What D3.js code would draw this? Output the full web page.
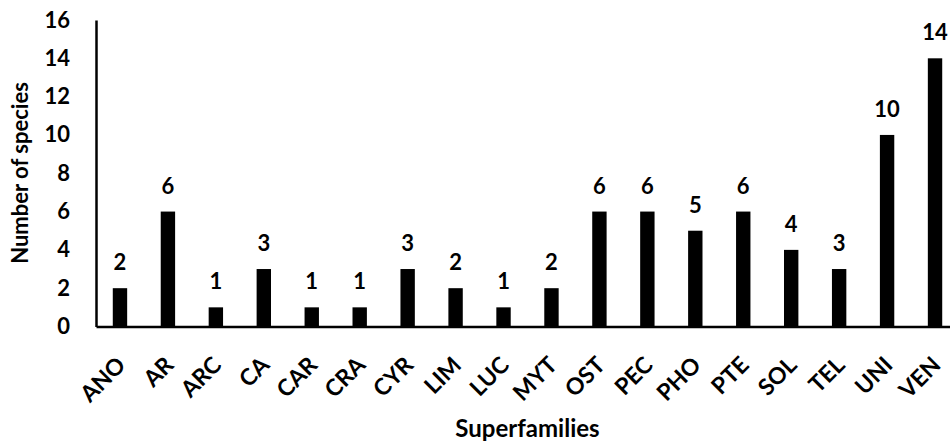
<!DOCTYPE html>
<html><head><meta charset="utf-8">
<script src="https://cdn.jsdelivr.net/npm/d3@7"></script>
<style>body{margin:0;background:#fff}svg{display:block}text{font-family:Lato,"Open Sans",sans-serif;font-weight:bold;fill:#000}</style>
</head><body><svg id="c" width="950" height="443"></svg>
<script>
const categories = ["ANO","AR","ARC","CA","CAR","CRA","CYR","LIM","LUC","MYT","OST","PEC","PHO","PTE","SOL","TEL","UNI","VEN"];
const values = [2,6,1,3,1,1,3,2,1,2,6,6,5,6,4,3,10,14];
const yTicks = [0,2,4,6,8,10,12,14,16];
const xTitle = "Superfamilies";
const yTitle = "Number of species";

const svg = d3.select("#c");
const x = d3.scaleBand().domain(categories).range([96, 959]).paddingInner(0.7).paddingOuter(0.35);
const y = d3.scaleLinear().domain([0, 16]).range([326.5, 20]);

// bars
svg.append("g").selectAll("rect").data(values).join("rect")
  .attr("x", (d,i) => x(categories[i]))
  .attr("width", x.bandwidth())
  .attr("y", d => y(d))
  .attr("height", d => y(0) - y(d))
  .attr("fill", "#000");

// value labels
svg.append("g").selectAll("text").data(values).join("text")
  .attr("x", (d,i) => x(categories[i]) + x.bandwidth()/2)
  .attr("y", d => y(d) - 18)
  .attr("text-anchor", "middle")
  .style("font-size", "22px")
  .text(d => d);

// y axis
const yAxis = svg.append("g").attr("transform", "translate(96,0)")
  .call(d3.axisLeft(y).tickValues(yTicks).tickSize(0).tickPadding(26));
yAxis.select(".domain").attr("stroke", "#000").attr("stroke-width", 2.5);
yAxis.selectAll("text").style("font-size", "22px").attr("font-family", null);

// x axis
const xAxis = svg.append("g").attr("transform", `translate(0,${y(0)})`)
  .call(d3.axisBottom(x).tickSize(0));
xAxis.select(".domain").attr("stroke", "#000").attr("stroke-width", 2.5);
xAxis.selectAll("text")
  .style("font-size", "23px").attr("font-family", null)
  .style("text-anchor", "end")
  .attr("dy", null).attr("y", 0)
  .attr("transform", "translate(7,40) rotate(-45)");

// titles
svg.append("text").attr("x", (96+959)/2).attr("y", 437).attr("text-anchor", "middle")
  .style("font-size", "24px").text(xTitle);
svg.append("text").attr("transform", "translate(28,173) rotate(-90)").attr("text-anchor", "middle")
  .style("font-size", "22px").text(yTitle);
</script></body></html>
